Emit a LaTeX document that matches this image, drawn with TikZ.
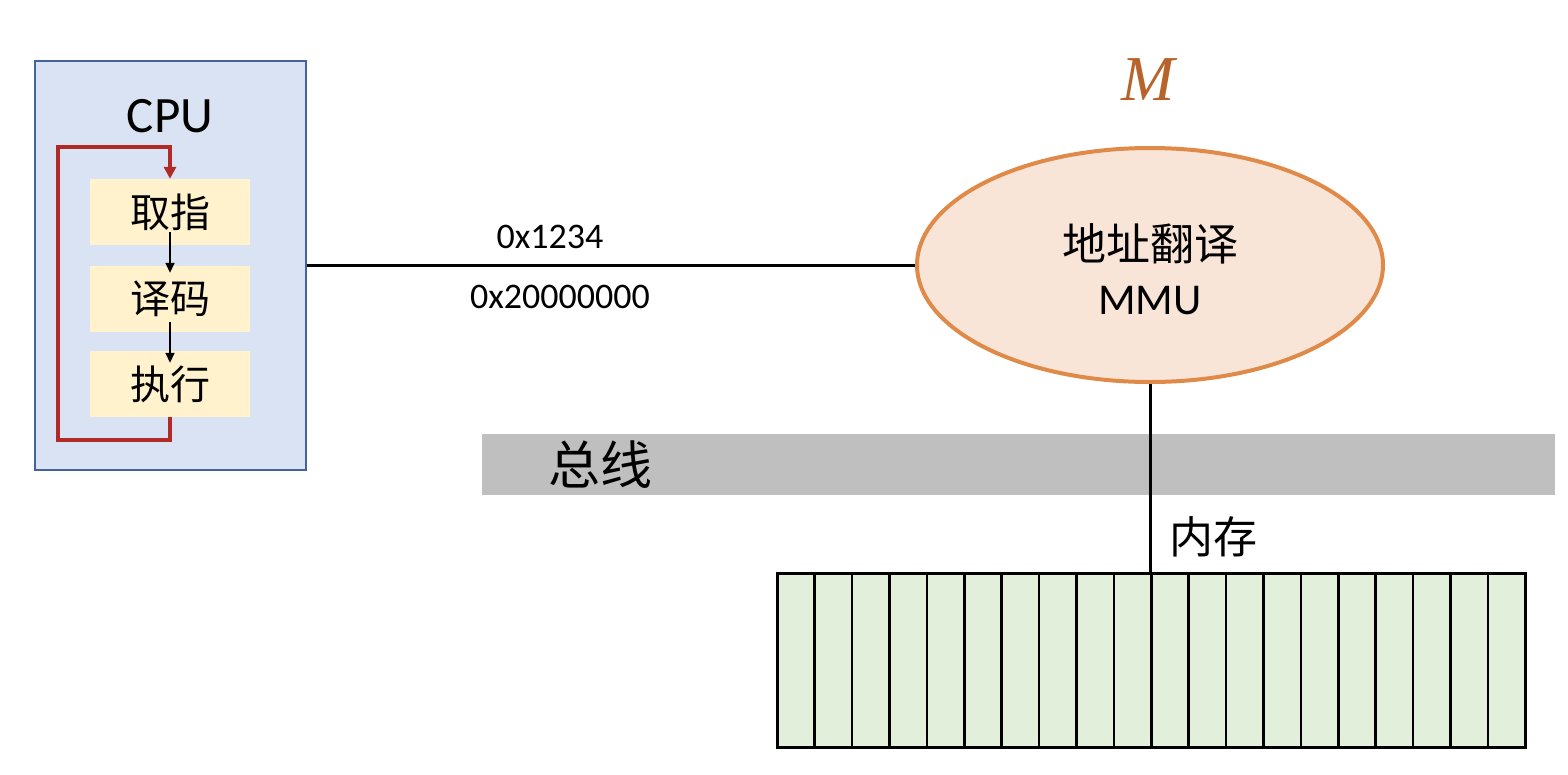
\documentclass[tikz,border=0pt]{standalone}
\usepackage{fontspec}
\setmainfont{Carlito}
\newfontfamily\cjk{Noto Sans CJK SC}
\newfontfamily\mser{Liberation Serif}
\usetikzlibrary{arrows.meta,shapes.geometric}
\definecolor{cpufill}{HTML}{DAE3F3}
\definecolor{cpuborder}{HTML}{44629F}
\definecolor{stepfill}{HTML}{FFF2CC}
\definecolor{loopred}{HTML}{B22A25}
\definecolor{mmufill}{HTML}{F8E5D8}
\definecolor{mmuborder}{HTML}{E08A4A}
\definecolor{mcol}{HTML}{B8632A}
\definecolor{busgray}{HTML}{BFBFBF}
\definecolor{memfill}{HTML}{E2EFDA}
\tikzset{
  stepbox/.style={fill=stepfill, minimum width=160pt, minimum height=66pt, inner sep=0pt, font=\cjk\fontsize{40}{44}\selectfont},
  wire/.style={line width=3pt},
  cell/.style={draw=black, line width=2.5pt, fill=memfill, minimum width=37.4pt, minimum height=174pt, inner sep=0pt, anchor=north west},
}
\begin{document}
\begin{tikzpicture}[x=1pt,y=-1pt]
\useasboundingbox (0,0) rectangle (1568,774);
% CPU
\node[draw=cpuborder, line width=2pt, fill=cpufill, minimum width=271pt, minimum height=409pt, inner sep=0pt] (cpu) at (170.5,265.5) {};
\node[font=\fontsize{51}{56}\selectfont] (cputxt) at (170,116) {CPU};
\node[stepbox] (fetch) at (170,212) {取指};
\node[stepbox] (decode) at (170,298.5) {译码};
\node[stepbox] (exec) at (170,384) {执行};
\draw[line width=1.6pt, -{Triangle[length=10pt,width=9pt]}] ([yshift=13pt]fetch.south) -- ([yshift=-7.5pt]decode.north);
\draw[line width=1.6pt, -{Triangle[length=10pt,width=9pt]}] ([yshift=9.5pt]decode.south) -- ([yshift=-12pt]exec.north);
\draw[loopred, line width=3.5pt, -{Triangle[length=12pt,width=12pt]}] (exec.south) -- (170,440) -- (58,440) -- (58,147) -- (170,147) -- (fetch.north);
% MMU
\node[draw=mmuborder, line width=4pt, fill=mmufill, ellipse, minimum width=466pt, minimum height=234pt, inner sep=0pt] (mmu) at (1150,265) {};
\node[align=center, font=\fontsize{44}{54}\selectfont] (mmutxt) at (1150,269) {{\cjk 地址翻译}\\MMU};
\node[text=mcol, font=\mser\itshape\fontsize{64}{70}\selectfont] (mlabel) at (1148,80) {M};
% address line
\draw[wire] (cpu.east |- 0,265) -- (mmu.west);
\node[font=\fontsize{36}{40}\selectfont] (va) at (550,237) {0x1234};
\node[font=\fontsize{36}{40}\selectfont] (pa) at (560,297) {0x20000000};
% bus
\node[fill=busgray, minimum width=1073pt, minimum height=61pt, inner sep=0pt] (bus) at (1018.5,464.5) {};
\node[font=\cjk\fontsize{52}{56}\selectfont] (bustxt) at (600,465) {总线};
% memory
\foreach \i in {0,...,19} {
  \node[cell] (c\i) at (776+37.4*\i,572) {};
}
\node[font=\cjk\fontsize{44}{48}\selectfont] (memtxt) at (1213,537) {内存};
\coordinate (memtop) at (1150,572);
\draw[wire] (mmu.south) -- (memtop);
\end{tikzpicture}
\end{document}
